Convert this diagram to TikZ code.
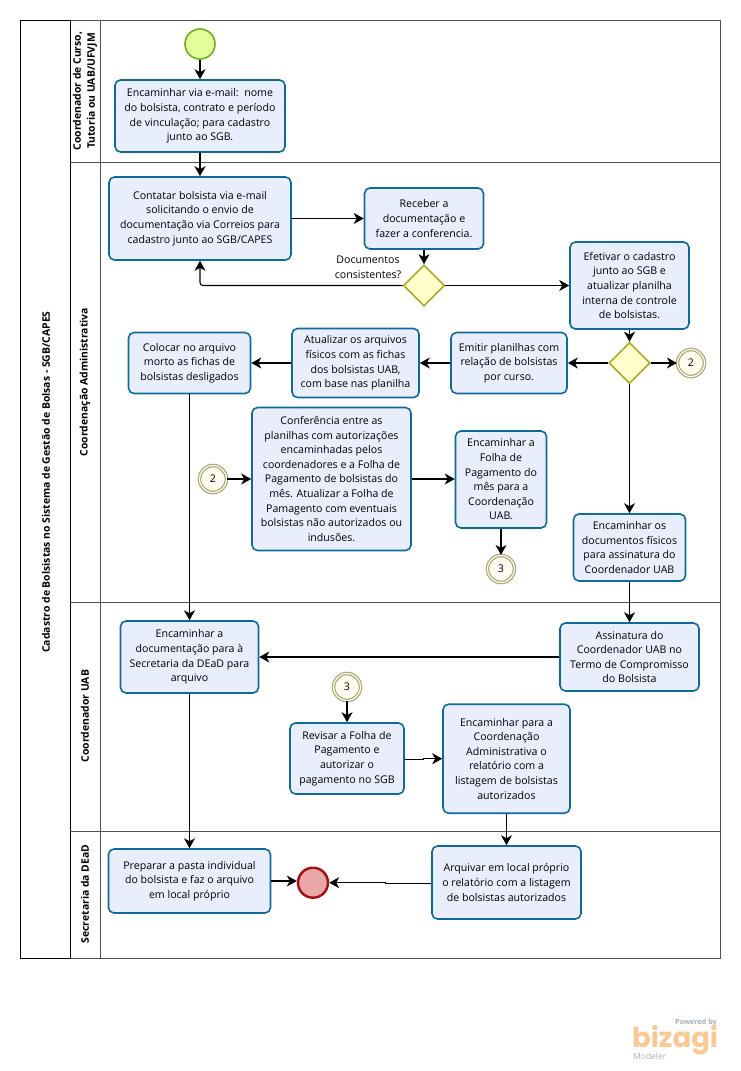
\documentclass[tikz,border=0pt]{standalone}
\usepackage{fontspec}
\setmainfont{Open Sans}
\newfontfamily\logofont{Poppins}
\usetikzlibrary{arrows.meta, positioning, shapes.geometric}

\definecolor{taskblue}{HTML}{0F6A9C}
\definecolor{taskfill}{HTML}{E9EEFD}
\definecolor{startline}{HTML}{6FAE1E}
\definecolor{startfill}{HTML}{E3FD9A}
\definecolor{gateline}{HTML}{A9A925}
\definecolor{gatefill}{HTML}{FFFFCC}
\definecolor{linkline}{HTML}{A8A56E}
\definecolor{linkfill}{HTML}{FFFBEF}
\definecolor{endline}{HTML}{A00E0E}
\definecolor{endfill}{HTML}{EBA7A7}
\definecolor{laneline}{HTML}{505050}
\definecolor{logoorange}{HTML}{F9C893}
\definecolor{logogray}{HTML}{A6AEB6}

\begin{document}
\begin{tikzpicture}[
        x=1pt, y=-1pt,
        every node/.style={font=\fontsize{10.6}{14.6}\selectfont, inner sep=0pt, align=center},
        task/.style={rectangle, rounded corners=5.5pt, draw=taskblue, fill=taskfill, line width=1.6pt},
        gate/.style={diamond, aspect=1, draw=gateline, fill=gatefill, line width=1.6pt, minimum size=41pt},
        linkevent/.style={circle, draw=linkline, fill=linkfill, line width=1.2pt, double=white, double distance=1.2pt, minimum size=27pt},
        lanelabel/.style={rotate=90, font=\fontsize{10.4}{14.2}\selectfont\bfseries},
        flow/.style={black, line width=1.1pt, -{Stealth[length=10pt, width=11pt, inset=3pt]}}
    ]
        \useasboundingbox (0,0) rectangle (740,1071);

        % Pool e raias
        \draw[laneline, line width=1pt] (70,20) rectangle (720,958);
        \draw[black, line width=1pt] (20,20) rectangle (70,958);
        \draw[laneline, line width=1pt] (100,20) -- (100,958);
        \foreach \y in {162,602,831}
            \draw[laneline, line width=1pt] (70,\y) -- (720,\y);

        \node[lanelabel] (pool) at (46,482) {Cadastro de Bolsistas no Sistema de Gestão de Bolsas - SGB/CAPES};
        \node[lanelabel] (coordCurso) at (85,91) {Coordenador de Curso,\\Tutoria ou UAB/UFVJM};
        \node[lanelabel] (coordAdm) at (85,382) {Coordenação Administrativa};
        \node[lanelabel] (coordUAB) at (85,716) {Coordenador UAB};
        \node[lanelabel] (secretaria) at (85,894) {Secretaria da DEaD};

        % Eventos e gateways
        \node[circle, draw=startline, fill=startfill, line width=1.6pt, minimum size=30pt] (inicio) at (200,44) {};
        \node[circle, draw=endline, fill=endfill, line width=2.4pt, minimum size=30pt] (fim) at (313,882.7) {};
        \node[gate] (gateDocs) at (424,285.5) {};
        \node[gate] (gateCadastro) at (629.5,363) {};
        \node[linkevent] (link2a) at (691,363) {2};
        \node[linkevent] (link2b) at (213,479) {2};
        \node[linkevent] (link3a) at (501,569) {3};
        \node[linkevent] (link3b) at (347,687) {3};

        % Tarefas
        \node[task, minimum width=170pt, minimum height=72pt] (encaminharNome) at (200,116) {Encaminhar via e-mail:\ \ nome\\do bolsista, contrato e período\\de vinculação; para cadastro\\junto ao SGB.};
        \node[task, minimum width=182pt, minimum height=83pt] (contatar) at (200,218.5) {Contatar bolsista via e-mail\\solicitando o envio de\\documentação via Correios para\\cadastro junto ao SGB/CAPES};
        \node[task, minimum width=119pt, minimum height=61pt] (receber) at (424,218.5) {Receber a\\documentação e\\fazer a conferencia.};
        \node[task, minimum width=119pt, minimum height=87pt] (efetivar) at (629.5,285.5) {Efetivar o cadastro\\junto ao SGB e\\atualizar planilha\\interna de controle\\de bolsistas.};
        \node[task, minimum width=116pt, minimum height=61pt] (emitir) at (509,363) {Emitir planilhas com\\relação de bolsistas\\por curso.};
        \node[task, minimum width=127pt, minimum height=69pt] (atualizar) at (355.5,363) {Atualizar os arquivos\\físicos com as fichas\\dos bolsistas UAB,\\com base nas planilha};
        \node[task, minimum width=122pt, minimum height=61pt] (colocar) at (189.5,363) {Colocar no arquivo\\morto as fichas de\\bolsistas desligados};
        \node[task, minimum width=159pt, minimum height=143pt] (conferencia) at (331.5,479) {Conferência entre as\\planilhas com autorizações\\encaminhadas pelos\\coordenadores e a Folha de\\Pagamento de bolsistas do\\mês. Atualizar a Folha de\\Pamagento com eventuais\\bolsistas não autorizados ou\\indusões.};
        \node[task, minimum width=91pt, minimum height=97pt] (encaminharFolha) at (501,479.5) {Encaminhar a\\Folha de\\Pagamento do\\mês para a\\Coordenação\\UAB.};
        \node[task, minimum width=112pt, minimum height=67pt] (encaminharFisicos) at (629.5,547.5) {Encaminhar os\\documentos físicos\\para assinatura do\\Coordenador UAB};
        \node[task, minimum width=139pt, minimum height=68pt] (assinatura) at (629.5,657) {Assinatura do\\Coordenador UAB no\\Termo de Compromisso\\do Bolsista};
        \node[task, minimum width=138pt, minimum height=72pt] (encaminharDoc) at (189.5,657) {Encaminhar a\\documentação para à\\Secretaria da DEaD para\\arquivo};
        \node[task, minimum width=114pt, minimum height=71pt] (revisar) at (347,758.5) {Revisar a Folha de\\Pagamento e\\autorizar o\\pagamento no SGB};
        \node[task, minimum width=127pt, minimum height=109pt] (encaminharRel) at (506.5,758.7) {Encaminhar para a\\Coordenação\\Administrativa o\\relatório com a\\listagem de bolsistas\\autorizados};
        \node[task, minimum width=149pt, minimum height=73pt] (arquivar) at (506.5,882.5) {Arquivar em local próprio\\o relatório com a listagem\\de bolsistas autorizados};
        \node[task, minimum width=162pt, minimum height=64pt] (preparar) at (189.5,881) {Preparar a pasta individual\\do bolsista e faz o arquivo\\em local próprio};

        % Rotulo do gateway
        \node (rotuloDocs) at (368,267) {Documentos\\consistentes?};

        % Ligacoes
        \draw[flow] (inicio) -- (encaminharNome);
        \draw[flow] (encaminharNome) -- (contatar);
        \draw[flow] (contatar) -- (receber);
        \draw[flow] (receber) -- (gateDocs);
        \draw[flow, rounded corners=3pt] (gateDocs.west) -| (contatar.south);
        \draw[flow] (gateDocs.east) -- (efetivar.west |- gateDocs.east);
        \draw[flow] (efetivar) -- (gateCadastro);
        \draw[flow] (gateCadastro) -- (link2a);
        \draw[flow] (gateCadastro) -- (emitir);
        \draw[flow] (emitir) -- (atualizar);
        \draw[flow] (atualizar) -- (colocar);
        \draw[flow] (colocar) -- (encaminharDoc);
        \draw[flow] (link2b) -- (conferencia);
        \draw[flow] (conferencia) -- (encaminharFolha.west |- conferencia.east);
        \draw[flow] (encaminharFolha) -- (link3a);
        \draw[flow] (gateCadastro) -- (encaminharFisicos);
        \draw[flow] (encaminharFisicos) -- (assinatura);
        \draw[flow] (assinatura) -- (encaminharDoc);
        \draw[flow] (link3b) -- (revisar);
        \draw[flow] ([yshift=-1pt]revisar.east) -- ++(19,0) |- (encaminharRel.west);
        \draw[flow] (encaminharRel) -- (arquivar);
        \draw[flow] (encaminharDoc) -- (preparar);
        \draw[flow] (preparar.east) -- (fim.west |- preparar.east);
        \draw[flow] ([yshift=-1pt]arquivar.west) -- ++(-46,0) |- (fim.east);

        % Logo
        \node[anchor=east, text=logogray, font=\fontsize{7.2}{8}\selectfont\bfseries] (powered) at (717,1023) {Powered by};
        \node[anchor=west, text=logoorange, font=\logofont\bfseries\fontsize{27.5}{27.5}\selectfont] (bizagi) at (632,1040) {bizagi};
        \node[anchor=west, text=logogray, font=\fontsize{8.5}{10}\selectfont] (modeler) at (633,1056) {Modeler};
    \end{tikzpicture}
\end{document}
